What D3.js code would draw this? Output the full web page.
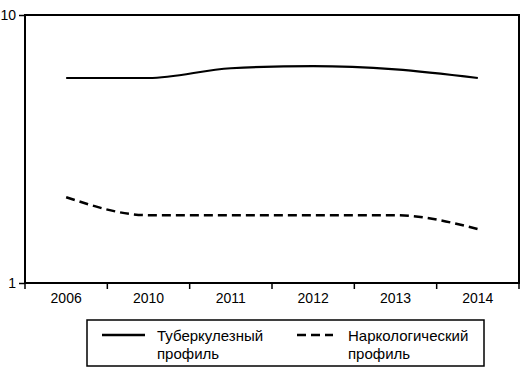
<!DOCTYPE html>
<html>
<head>
<meta charset="utf-8">
<script src="https://cdn.jsdelivr.net/npm/d3@7"></script>
<style>
  body { margin: 0; background: #fff; }
  text { font-family: "Liberation Sans", Arial, sans-serif; font-size: 14px; fill: #000; }
</style>
</head>
<body>
<svg id="chart" width="531" height="375"></svg>
<script>
// chart data
let years = ["2006", "2010", "2011", "2012", "2013", "2014"];
let tuberc = [5.82, 5.82, 6.33, 6.45, 6.27, 5.82];
let narco = [2.09, 1.79, 1.79, 1.79, 1.79, 1.59];
let yTicks = [1, 10];
let seriesNames = [["Туберкулезный", "профиль"], ["Наркологический", "профиль"]];

let svg = d3.select("#chart");

let plotLeft = 25, plotRight = 519, plotTop = 15, plotBottom = 283;

let xScale = d3.scaleBand()
    .domain(years)
    .range([plotLeft, plotRight]);

let yScale = d3.scaleLog()
    .domain([1, 10])
    .range([plotBottom, plotTop]);

// frame
svg.append("rect")
    .attr("x", plotLeft).attr("y", plotTop)
    .attr("width", plotRight - plotLeft).attr("height", plotBottom - plotTop)
    .attr("fill", "none").attr("stroke", "#000").attr("stroke-width", 2);

// y axis
let yAxis = d3.axisLeft(yScale)
    .tickValues(yTicks)
    .tickFormat(d3.format("d"))
    .tickSize(6)
    .tickPadding(3);

let gY = svg.append("g")
    .attr("transform", "translate(" + plotLeft + ",0)")
    .call(yAxis);
gY.select(".domain").remove();
gY.selectAll("line").attr("stroke-width", 1.5);
gY.selectAll("text").style("font-size", "14px").attr("font-family", null);

// x axis: labels centered in bands, ticks on band boundaries
let xAxis = d3.axisBottom(xScale).tickSize(0).tickPadding(10);
let gX = svg.append("g")
    .attr("transform", "translate(0," + plotBottom + ")")
    .call(xAxis);
gX.select(".domain").remove();
gX.selectAll("text").style("font-size", "14px").attr("font-family", null);

let boundaries = d3.range(years.length + 1).map(i => plotLeft + i * xScale.step());
svg.append("g").selectAll("line")
    .data(boundaries)
    .join("line")
    .attr("x1", d => d).attr("x2", d => d)
    .attr("y1", plotBottom).attr("y2", plotBottom + 6)
    .attr("stroke", "#000").attr("stroke-width", 1.5);

// lines
let line = d3.line()
    .x((d, i) => xScale(years[i]) + xScale.bandwidth() / 2)
    .y(d => yScale(d))
    .curve(d3.curveMonotoneX);

svg.append("path")
    .datum(tuberc)
    .attr("d", line)
    .attr("fill", "none").attr("stroke", "#000").attr("stroke-width", 2.2);

svg.append("path")
    .datum(narco)
    .attr("d", line)
    .attr("fill", "none").attr("stroke", "#000").attr("stroke-width", 2.5)
    .attr("stroke-dasharray", "9,5");

// legend
let legend = svg.append("g");
legend.append("rect")
    .attr("x", 87).attr("y", 320)
    .attr("width", 397).attr("height", 46)
    .attr("fill", "#fff").attr("stroke", "#000").attr("stroke-width", 1.5);

let legendX = [102, 297];
let dashes = [null, "9,5"];
seriesNames.forEach(function(name, i) {
    legend.append("line")
        .attr("x1", legendX[i]).attr("x2", legendX[i] + (i === 0 ? 43 : 36))
        .attr("y1", 335).attr("y2", 335)
        .attr("stroke", "#000").attr("stroke-width", 2.5)
        .attr("stroke-dasharray", dashes[i]);
    let tx = legendX[i] + (i === 0 ? 55 : 51);
    let t = legend.append("text")
        .attr("x", tx)
        .attr("y", 341)
        .style("font-size", "15px");
    t.append("tspan").text(name[0]);
    t.append("tspan").attr("x", tx).attr("dy", 18).text(name[1]);
});
</script>
</body>
</html>
